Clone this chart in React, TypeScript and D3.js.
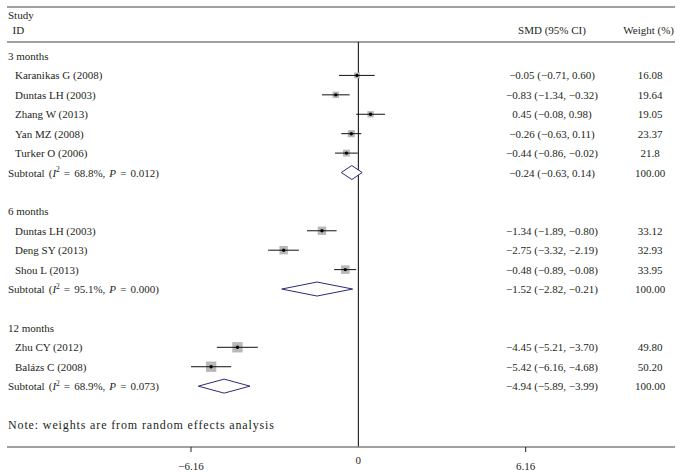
import React from "react";
import * as d3 from "d3";

const groupNames = ["3 months", "6 months", "12 months"];
const groupSmd = [-0.24, -1.52, -4.94];
const groupLower = [-0.63, -2.82, -5.89];
const groupUpper = [0.14, -0.21, -3.99];
const groupI2 = ["68.8%", "95.1%", "68.9%"];
const groupP = ["0.012", "0.000", "0.073"];
const groupCI = ["−0.24 (−0.63, 0.14)", "−1.52 (−2.82, −0.21)", "−4.94 (−5.89, −3.99)"];
const groupWeight = ["100.00", "100.00", "100.00"];

const studyLabels = [
  "Karanikas G (2008)", "Duntas LH (2003)", "Zhang W (2013)", "Yan MZ (2008)", "Turker O (2006)",
  "Duntas LH (2003)", "Deng SY (2013)", "Shou L (2013)",
  "Zhu CY (2012)", "Balázs C (2008)",
];
const studyGroup = [0, 0, 0, 0, 0, 1, 1, 1, 2, 2];
const smd = [-0.05, -0.83, 0.45, -0.26, -0.44, -1.34, -2.75, -0.48, -4.45, -5.42];
const lower = [-0.71, -1.34, -0.08, -0.63, -0.86, -1.89, -3.32, -0.89, -5.21, -6.16];
const upper = [0.6, -0.32, 0.98, 0.11, -0.02, -0.8, -2.19, -0.08, -3.7, -4.68];
const weights = [16.08, 19.64, 19.05, 23.37, 21.8, 33.12, 32.93, 33.95, 49.8, 50.2];
const studyCI = [
  "−0.05 (−0.71, 0.60)", "−0.83 (−1.34, −0.32)", "0.45 (−0.08, 0.98)", "−0.26 (−0.63, 0.11)",
  "−0.44 (−0.86, −0.02)", "−1.34 (−1.89, −0.80)", "−2.75 (−3.32, −2.19)", "−0.48 (−0.89, −0.08)",
  "−4.45 (−5.21, −3.70)", "−5.42 (−6.16, −4.68)",
];
const studyWeightLabels = ["16.08", "19.64", "19.05", "23.37", "21.8", "33.12", "32.93", "33.95", "49.80", "50.20"];

const axisTicks = [-6.16, 0, 6.16];
const axisTickLabels = ["−6.16", "0", "6.16"];
const noteText = "Note: weights are from random effects analysis";

const W = 682;
const H = 475;
const FONT = "'Liberation Serif', 'Times New Roman', serif";
const TEXT = "#231f20";
const LINE = "#808080";
const NAVY = "#2b2b7a";

export default function App() {
  const x = d3.scaleLinear().domain([-6.16, 6.16]).range([191, 525.7]);
  const rowY = (i: number) => 56 + i * 19.42;
  const sizeScale = d3.scaleSqrt().domain([0, 100]).range([0, 14.6]);

  type Row =
    | { kind: "group"; g: number; r: number }
    | { kind: "study"; s: number; r: number }
    | { kind: "sub"; g: number; r: number };
  const rows: Row[] = [];
  let r = 0;
  groupNames.forEach((_, g) => {
    rows.push({ kind: "group", g, r: r++ });
    studyLabels.forEach((_, s) => {
      if (studyGroup[s] === g) rows.push({ kind: "study", s, r: r++ });
    });
    rows.push({ kind: "sub", g, r: r++ });
    r++;
  });
  const noteRow = r;

  const xCI = 552;
  const xW = 650;
  const axisY = 447;

  return (
    <svg width={W} height={H} style={{ position: "absolute", left: 0, top: 0, background: "#fff" }}
      fontFamily={FONT} fontSize={11} fill={TEXT}>
      <rect x={0} y={0} width={W} height={H} fill="#fff" />
      {/* header */}
      <line x1={7} x2={675} y1={7} y2={7} stroke={LINE} strokeWidth={1.5} />
      <line x1={7} x2={675} y1={42} y2={42} stroke={LINE} strokeWidth={1.5} />
      <text x={8} y={19}>Study</text>
      <text x={12.5} y={34}>ID</text>
      <text x={xCI} y={34} textAnchor="middle">SMD (95% CI)</text>
      <text x={674} y={34} textAnchor="end">Weight (%)</text>

      {/* null line */}
      <line x1={x(0)} x2={x(0)} y1={42} y2={axisY} stroke="#000" strokeWidth={1} />

      {rows.map((row, i) => {
        const y = rowY(row.r);
        if (row.kind === "group") {
          return <text key={i} x={8} y={y + 4}>{groupNames[row.g]}</text>;
        }
        if (row.kind === "study") {
          const s = row.s;
          const side = sizeScale(weights[s]);
          return (
            <g key={i}>
              <text x={15} y={y + 4}>{studyLabels[s]}</text>
              <rect x={x(smd[s]) - side / 2} y={y - side / 2} width={side} height={side} fill="#b8b8b8" />
              <line x1={x(lower[s])} x2={x(upper[s])} y1={y} y2={y} stroke="#111" strokeWidth={1} />
              <circle cx={x(smd[s])} cy={y} r={1.7} fill="#000" />
              <text x={xCI} y={y + 4} textAnchor="middle">{studyCI[s]}</text>
              <text x={xW} y={y + 4} textAnchor="middle">{studyWeightLabels[s]}</text>
            </g>
          );
        }
        const g = row.g;
        const h = 7;
        const pts = [
          [x(groupLower[g]), y],
          [x(groupSmd[g]), y - h],
          [x(groupUpper[g]), y],
          [x(groupSmd[g]), y + h],
        ];
        return (
          <g key={i}>
            <text x={8} y={y + 4} fontSize={11} wordSpacing={1.3}>
              Subtotal (<tspan fontStyle="italic">I</tspan>
              <tspan fontSize={7.5} dy={-4.5}>2</tspan>
              <tspan dy={4.5}> = {groupI2[g]}, </tspan>
              <tspan fontStyle="italic">P</tspan> = {groupP[g]})
            </text>
            <polygon points={pts.map((p) => p.join(",")).join(" ")} fill="#fff" stroke={NAVY} strokeWidth={1} />
            <text x={xCI} y={y + 4} textAnchor="middle">{groupCI[g]}</text>
            <text x={xW} y={y + 4} textAnchor="middle">{groupWeight[g]}</text>
          </g>
        );
      })}

      <text x={8} y={rowY(noteRow) + 4} fontSize={12} textLength={266} lengthAdjust="spacing">{noteText}</text>

      {/* axis */}
      <line x1={7} x2={675} y1={axisY} y2={axisY} stroke={LINE} strokeWidth={1.5} />
      {axisTicks.map((t, i) =>
        t === 0 ? (
          <text key={i} x={x(t)} y={464} textAnchor="middle">{axisTickLabels[i]}</text>
        ) : (
          <g key={i}>
            <line x1={x(t)} x2={x(t)} y1={axisY} y2={axisY + 5} stroke="#222" strokeWidth={1} />
            <text x={x(t)} y={470} textAnchor="middle">{axisTickLabels[i]}</text>
          </g>
        )
      )}
    </svg>
  );
}
